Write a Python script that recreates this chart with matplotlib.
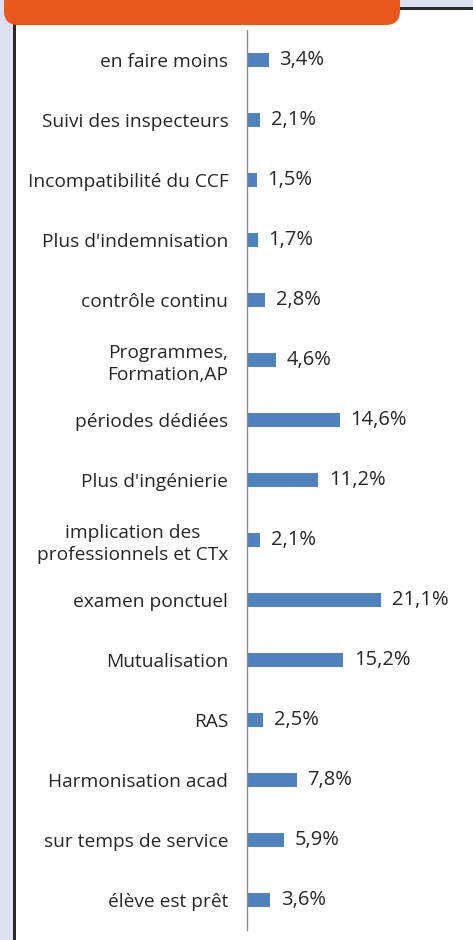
import matplotlib
matplotlib.use("Agg")
import matplotlib.pyplot as plt
from matplotlib.patches import Rectangle, FancyBboxPatch

# categories, top to bottom
labels = ["en faire moins", "Suivi des inspecteurs", "Incompatibilité du CCF",
          "Plus d'indemnisation", "contrôle continu", "Programmes,\nFormation,AP",
          "périodes dédiées", "Plus d'ingénierie",
          "implication des\nprofessionnels et CTx", "examen ponctuel",
          "Mutualisation", "RAS", "Harmonisation acad", "sur temps de service",
          "élève est prêt"]
values = [3.4, 2.1, 1.5, 1.7, 2.8, 4.6, 14.6, 11.2, 2.1, 21.1, 15.2, 2.5, 7.8, 5.9, 3.6]

W, H = 473, 940
fig = plt.figure(figsize=(W / 100, H / 100), dpi=100)
plt.rcParams['font.family'] = ['Open Sans', 'DejaVu Sans']

# page decorations (pixel coords -> figure coords)
def px(x, y, w, h):
    return (x / W, 1 - (y + h) / H, w / W, h / H)

bg = "#dde0ef"
for (x, y, w, h), c in [(px(0, 0, 14, H), bg), (px(0, 0, W, 8), bg),
                        (px(13, 8, 2.5, H), "#2a2a2a"), (px(390, 7, W - 390, 2.5), "#2a2a2a")]:
    fig.patches.append(Rectangle((x, y), w, h, transform=fig.transFigure,
                                 facecolor=c, edgecolor="none", zorder=1))
ox, oy, ow, oh = px(4, -30, 396, 55)
fig.patches.append(FancyBboxPatch((ox, oy), ow, oh, boxstyle="round,pad=0,rounding_size=0.03",
                                  transform=fig.transFigure, facecolor="#e8581e",
                                  edgecolor="none", zorder=3, mutation_aspect=W / H))

ax = fig.add_axes([247 / W, 1 - 930 / H, (W - 247) / W, 900 / H])
ax.set_facecolor("none")
pos = list(range(len(labels)))[::-1]
ax.barh(pos, values, height=0.22, color="#4f81bd")
for p, v in zip(pos, values):
    ax.text(v + 1.7, p, f"{v:.1f}%".replace(".", ","), va="center", ha="left",
            fontsize=14.5, color="#262626")
ax.set_yticks(pos)
ax.set_yticklabels(labels, fontsize=13.8, color="#262626", multialignment="center",
                   linespacing=1.25)
ax.tick_params(axis="y", length=0, pad=13.5)
ax.set_ylim(-0.5, len(labels) - 0.5)
ax.set_xlim(0, 35.6)
ax.set_xticks([])
for s in ["top", "right", "bottom"]:
    ax.spines[s].set_visible(False)
ax.spines["left"].set_color("#8c8c8c")
ax.spines["left"].set_linewidth(1)

fig.savefig("out.png", dpi=100)
